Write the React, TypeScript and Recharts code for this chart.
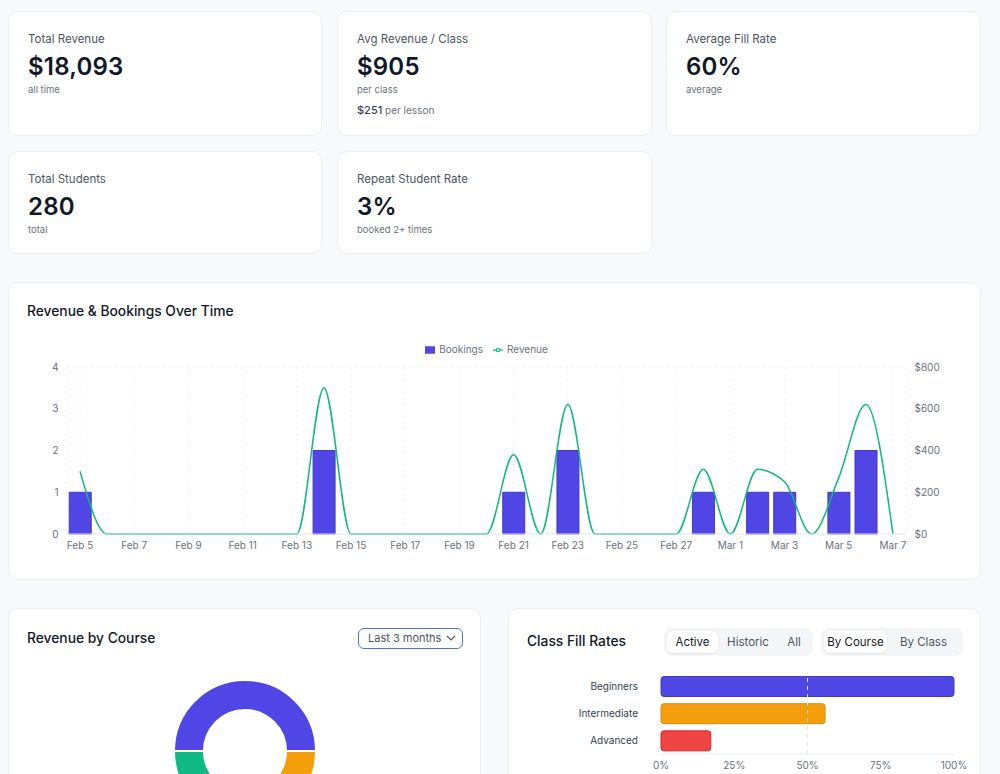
import React from 'react';
import {
  ComposedChart, Bar, Line, XAxis, YAxis, CartesianGrid, Legend,
  PieChart, Pie, Cell, BarChart, ReferenceLine,
} from 'recharts';

// ---- Data ----
const dates = [
  'Feb 5', 'Feb 6', 'Feb 7', 'Feb 8', 'Feb 9', 'Feb 10', 'Feb 11', 'Feb 12', 'Feb 13', 'Feb 14',
  'Feb 15', 'Feb 16', 'Feb 17', 'Feb 18', 'Feb 19', 'Feb 20', 'Feb 21', 'Feb 22', 'Feb 23', 'Feb 24',
  'Feb 25', 'Feb 26', 'Feb 27', 'Feb 28', 'Mar 1', 'Mar 2', 'Mar 3', 'Mar 4', 'Mar 5', 'Mar 6', 'Mar 7',
];
const bookings = [1, 0, 0, 0, 0, 0, 0, 0, 0, 2, 0, 0, 0, 0, 0, 0, 1, 0, 2, 0, 0, 0, 0, 1, 0, 1, 1, 0, 1, 2, 0];
const revenue = [300, 0, 0, 0, 0, 0, 0, 0, 0, 700, 0, 0, 0, 0, 0, 0, 380, 0, 620, 0, 0, 0, 0, 310, 0, 310, 250, 0, 270, 620, 0];

const leftTicks = [0, 1, 2, 3, 4];
const rightTicks = [0, 200, 400, 600, 800];

const courseNames = ['Beginners', 'Private Lessons', 'Intermediate'];
const courseRevenue = [9047, 4523, 4523];
const courseColors = ['#4f46e5', '#10b981', '#f59e0b'];

const fillCourses = ['Beginners', 'Intermediate', 'Advanced'];
const fillRates = [100, 56, 17];
const fillColors = ['#4f46e5', '#f59e0b', '#ef4444'];
const fillStrokes = ['#4338ca', '#e08e07', '#dc2626'];
const fillTicks = [0, 25, 50, 75, 100];

const timeData = dates.map((d, i) => ({ date: d, bookings: bookings[i], revenue: revenue[i] }));
const courseData = courseNames.map((n, i) => ({ name: n, value: courseRevenue[i] }));
const fillData = fillCourses.map((n, i) => ({ name: n, rate: fillRates[i] }));

const FONT = 'Inter, "Noto Sans", sans-serif';

const cardStyle: React.CSSProperties = {
  position: 'absolute',
  background: '#ffffff',
  border: '1px solid #eceef1',
  borderRadius: 10,
  boxSizing: 'border-box',
};

const titleStyle: React.CSSProperties = { position: 'absolute', fontSize: 13.8, fontWeight: 500, color: '#111827' };

function StatCard(props: { left: number; top: number; width: number; height: number; label: string; value: string; sub: string; extra?: React.ReactNode }) {
  return (
    <div style={{ ...cardStyle, left: props.left, top: props.top, width: props.width, height: props.height, padding: '20px 0 0 19px' }}>
      <div style={{ fontSize: 11.5, lineHeight: '14px', color: '#4b5563' }}>{props.label}</div>
      <div style={{ fontSize: 24, lineHeight: '30px', fontWeight: 600, color: '#111827', marginTop: 6, letterSpacing: 0.2 }}>{props.value}</div>
      <div style={{ fontSize: 9.5, lineHeight: '14px', color: '#6b7280', marginTop: 1 }}>{props.sub}</div>
      {props.extra}
    </div>
  );
}

function Toggle(props: { items: string[]; active: number; left: number; width: number; widths: number[] }) {
  return (
    <div style={{ position: 'absolute', left: props.left, top: 19, width: props.width, height: 28, background: '#f4f5f7', borderRadius: 8, boxSizing: 'border-box', padding: 3, display: 'flex' }}>
      {props.items.map((it, i) => (
        <div key={it} style={{
          width: props.widths[i], height: 22, lineHeight: '22px', textAlign: 'center', fontSize: 11.5,
          color: i === props.active ? '#111827' : '#4b5563',
          background: i === props.active ? '#ffffff' : 'transparent',
          borderRadius: 6,
          boxShadow: i === props.active ? '0 1px 2px rgba(0,0,0,0.08)' : 'none',
        }}>{it}</div>
      ))}
    </div>
  );
}

export default function App() {
  return (
    <div style={{ position: 'absolute', left: 0, top: 0, width: 1000, height: 774, overflow: 'hidden', background: '#f8f9fa', fontFamily: FONT }}>
      <StatCard left={8} top={11} width={314} height={125} label="Total Revenue" value="$18,093" sub="all time" />
      <StatCard left={337} top={11} width={315} height={125} label="Avg Revenue / Class" value="$905" sub="per class"
        extra={<div style={{ marginTop: 6, fontSize: 10, lineHeight: '14px', color: '#6b7280' }}><span style={{ fontSize: 11, fontWeight: 500, color: '#374151' }}>$251</span> per lesson</div>} />
      <StatCard left={666} top={11} width={315} height={125} label="Average Fill Rate" value="60%" sub="average" />
      <StatCard left={8} top={151} width={314} height={103} label="Total Students" value="280" sub="total" />
      <StatCard left={337} top={151} width={315} height={103} label="Repeat Student Rate" value="3%" sub="booked 2+ times" />

      {/* Revenue & Bookings */}
      <div style={{ ...cardStyle, left: 8, top: 282, width: 973, height: 298 }}>
        <div style={{ ...titleStyle, left: 18, top: 20 }}>Revenue &amp; Bookings Over Time</div>
        <div style={{ position: 'absolute', left: -1, top: 49 }}>
          <ComposedChart width={973} height={237} data={timeData} margin={{ top: 9, right: 24.5, bottom: 5, left: 18.5 }}>
            <CartesianGrid strokeDasharray="3 3" stroke="#f3f4f6" />
            <Legend verticalAlign="top" align="center" iconSize={10} height={26}
              wrapperStyle={{ fontSize: 10, lineHeight: '16px' }}
              formatter={(v: string) => <span style={{ color: '#6b7280' }}>{v}</span>} />
            <XAxis dataKey="date" interval={1} tick={{ fontSize: 10, fill: '#6b7280' }} tickLine={false} axisLine={{ stroke: '#e5e7eb' }} />
            <YAxis yAxisId="left" width={40} domain={[0, 4]} ticks={leftTicks} tick={{ fontSize: 10, fill: '#6b7280' }} tickLine={false} axisLine={false} />
            <YAxis yAxisId="right" orientation="right" width={50} domain={[0, 800]} ticks={rightTicks}
              tickFormatter={(v: number) => `$${v}`} tick={{ fontSize: 10, fill: '#6b7280' }} tickLine={false} axisLine={false} />
            <Bar yAxisId="left" dataKey="bookings" name="Bookings" fill="#4f46e5" stroke="#4338ca" strokeWidth={1} isAnimationActive={false} />
            <Line yAxisId="right" type="monotone" dataKey="revenue" name="Revenue" stroke="#10b981" strokeWidth={1.5} dot={false} isAnimationActive={false} />
          </ComposedChart>
        </div>
      </div>

      {/* Revenue by Course */}
      <div style={{ ...cardStyle, left: 8, top: 608, width: 473, height: 300 }}>
        <div style={{ ...titleStyle, left: 18, top: 21 }}>Revenue by Course</div>
        <div style={{ position: 'absolute', left: 349, top: 19, width: 105, height: 21, border: '1.5px solid #4a78c2', borderRadius: 6, boxSizing: 'border-box', fontSize: 11, lineHeight: '18px', color: '#4b5563', paddingLeft: 9 }}>
          Last 3 months
          <svg width="10" height="6" style={{ position: 'absolute', right: 6, top: 6 }}>
            <polyline points="1,1 5,5 9,1" fill="none" stroke="#4b5563" strokeWidth="1.2" />
          </svg>
        </div>
        <div style={{ position: 'absolute', left: -1, top: -1 }}>
          <PieChart width={473} height={300}>
            <Pie data={courseData} dataKey="value" nameKey="name" cx={232} cy={138} innerRadius={41} outerRadius={71}
              stroke="#ffffff" strokeWidth={2} isAnimationActive={false}>
              {courseData.map((d, i) => <Cell key={d.name} fill={courseColors[i]} />)}
            </Pie>
          </PieChart>
        </div>
      </div>

      {/* Class Fill Rates */}
      <div style={{ ...cardStyle, left: 508, top: 608, width: 473, height: 300 }}>
        <div style={{ ...titleStyle, left: 18, top: 24 }}>Class Fill Rates</div>
        <Toggle items={['Active', 'Historic', 'All']} active={0} left={155} width={149} widths={[51, 60, 32]} />
        <Toggle items={['By Course', 'By Class']} active={0} left={312} width={142} widths={[63, 73]} />
        <div style={{ position: 'absolute', left: -1, top: 50 }}>
          <BarChart width={473} height={130} data={fillData} layout="vertical" margin={{ top: 13.5, right: 27, bottom: 5, left: 0 }} barSize={20}>
            <XAxis type="number" domain={[0, 100]} ticks={fillTicks} tickFormatter={(v: number) => `${v}%`}
              tick={{ fontSize: 10, fill: '#6b7280' }} tickLine={false} axisLine={{ stroke: '#eceef1' }} />
            <YAxis type="category" dataKey="name" width={153} tickMargin={17} tick={{ fontSize: 10, fill: '#374151' }} tickLine={false} axisLine={false} />
            <Bar dataKey="rate" radius={[3, 3, 3, 3]} strokeWidth={1} isAnimationActive={false}>
              {fillData.map((d, i) => <Cell key={d.name} fill={fillColors[i]} stroke={fillStrokes[i]} />)}
            </Bar>
            <ReferenceLine x={50} stroke="#e5e7eb" strokeDasharray="4 4" />
          </BarChart>
        </div>
      </div>
    </div>
  );
}
